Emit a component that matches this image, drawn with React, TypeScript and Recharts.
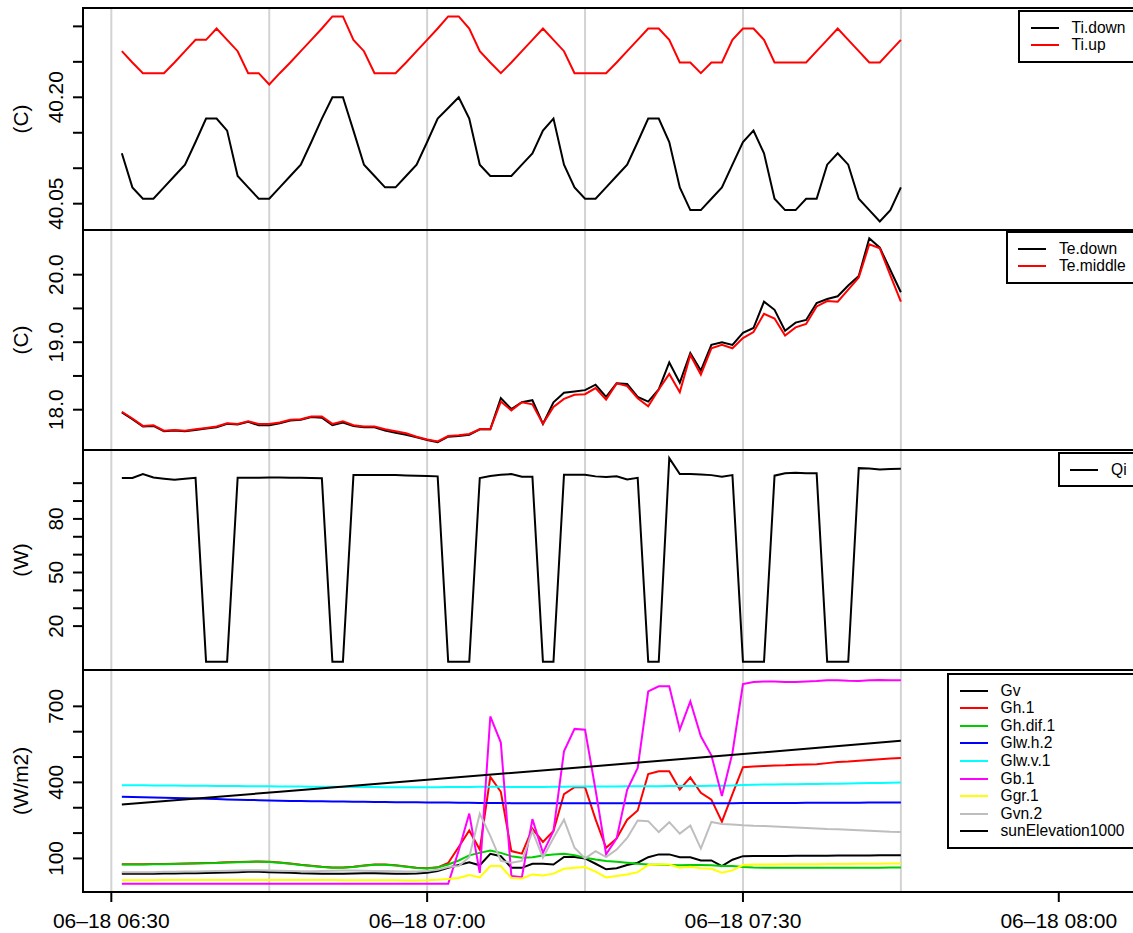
import { LineChart, Line, XAxis, YAxis, CartesianGrid } from 'recharts'

const FONT = '"Liberation Sans", Arial, Helvetica, sans-serif'

// minutes after 06:30
const MINUTES = [
  1, 2, 3, 4, 5, 6, 7, 8, 9, 10, 11, 12, 13, 14, 15, 16, 17, 18, 19, 20,
  21, 22, 23, 24, 25, 26, 27, 28, 29, 30, 31, 32, 33, 34, 35, 36, 37, 38, 39, 40,
  41, 42, 43, 44, 45, 46, 47, 48, 49, 50, 51, 52, 53, 54, 55, 56, 57, 58, 59, 60,
  61, 62, 63, 64, 65, 66, 67, 68, 69, 70, 71, 72, 73, 74, 75,
]
const X_TICKS = [0, 30, 60, 90]
const X_LABELS = ['06–18 06:30', '06–18 07:00', '06–18 07:30', '06–18 08:00']
const GRID_T = [0, 15, 30, 45, 60, 75]

const TI_DOWN = [
  40.121, 40.073, 40.057, 40.057, 40.073, 40.089, 40.105, 40.137, 40.170, 40.170,
  40.153, 40.089, 40.073, 40.057, 40.057, 40.073, 40.089, 40.105, 40.137, 40.170,
  40.200, 40.200, 40.153, 40.105, 40.089, 40.073, 40.073, 40.089, 40.105, 40.137,
  40.170, 40.185, 40.200, 40.170, 40.105, 40.089, 40.089, 40.089, 40.105, 40.121,
  40.153, 40.170, 40.105, 40.073, 40.057, 40.057, 40.073, 40.089, 40.105, 40.137,
  40.170, 40.170, 40.137, 40.073, 40.041, 40.041, 40.057, 40.073, 40.105, 40.137,
  40.153, 40.121, 40.057, 40.041, 40.041, 40.057, 40.057, 40.105, 40.121, 40.105,
  40.057, 40.041, 40.025, 40.041, 40.073,
]
const TI_UP = [
  40.265, 40.249, 40.234, 40.234, 40.234, 40.249, 40.265, 40.281, 40.281, 40.297,
  40.281, 40.265, 40.234, 40.234, 40.218, 40.234, 40.249, 40.265, 40.281, 40.297,
  40.314, 40.314, 40.281, 40.265, 40.234, 40.234, 40.234, 40.249, 40.265, 40.281,
  40.297, 40.314, 40.314, 40.297, 40.265, 40.249, 40.234, 40.249, 40.265, 40.281,
  40.297, 40.281, 40.265, 40.234, 40.234, 40.234, 40.234, 40.249, 40.265, 40.281,
  40.297, 40.297, 40.281, 40.249, 40.249, 40.234, 40.249, 40.249, 40.281, 40.297,
  40.297, 40.281, 40.249, 40.249, 40.249, 40.249, 40.265, 40.281, 40.297, 40.281,
  40.265, 40.249, 40.249, 40.265, 40.281,
]

const TE_DOWN = [
  17.96, 17.86, 17.75, 17.76, 17.68, 17.69, 17.68, 17.70, 17.72, 17.74,
  17.79, 17.78, 17.82, 17.77, 17.77, 17.80, 17.84, 17.85, 17.89, 17.88,
  17.77, 17.81, 17.76, 17.74, 17.74, 17.69, 17.66, 17.63, 17.59, 17.55,
  17.52, 17.60, 17.61, 17.63, 17.71, 17.71, 18.17, 18.01, 18.11, 18.14,
  17.79, 18.11, 18.25, 18.27, 18.29, 18.37, 18.19, 18.39, 18.38, 18.19,
  18.12, 18.30, 18.70, 18.40, 18.84, 18.58, 18.96, 19.00, 18.96, 19.14,
  19.21, 19.60, 19.48, 19.17, 19.29, 19.33, 19.58, 19.64, 19.68, 19.84,
  19.98, 20.54, 20.40, 20.07, 19.74,
]
const TE_MIDDLE = [
  17.97, 17.87, 17.76, 17.77, 17.69, 17.70, 17.69, 17.71, 17.73, 17.75,
  17.80, 17.79, 17.83, 17.79, 17.79, 17.81, 17.85, 17.86, 17.90, 17.90,
  17.79, 17.83, 17.77, 17.75, 17.75, 17.71, 17.68, 17.65, 17.60, 17.56,
  17.53, 17.61, 17.62, 17.64, 17.71, 17.71, 18.12, 17.99, 18.11, 18.08,
  17.79, 18.04, 18.16, 18.22, 18.23, 18.32, 18.15, 18.39, 18.35, 18.17,
  18.05, 18.30, 18.53, 18.26, 18.81, 18.52, 18.91, 18.96, 18.91, 19.06,
  19.15, 19.42, 19.35, 19.10, 19.22, 19.27, 19.53, 19.61, 19.60, 19.78,
  19.96, 20.45, 20.39, 19.99, 19.60,
]

const QI = [
  102.9, 102.9, 105.1, 103.2, 102.5, 101.9, 102.5, 103.0, 0, 0,
  0, 103.0, 103.0, 103.0, 103.2, 103.2, 103.0, 103.0, 102.9, 102.7,
  0, 0, 104.5, 104.5, 104.5, 104.5, 104.5, 104.3, 104.2, 104.0,
  103.8, 0, 0, 0, 102.9, 104.0, 104.7, 105.1, 103.6, 103.6,
  0, 0, 104.7, 104.7, 104.7, 103.8, 103.4, 103.8, 102.1, 103.0,
  0, 0, 114.0, 105.1, 105.1, 104.9, 104.5, 103.6, 104.5, 0,
  0, 0, 104.2, 105.5, 105.8, 105.6, 105.5, 0, 0, 0,
  108.4, 108.2, 107.7, 107.9, 108.1,
]

const GV = [
  40, 40, 40, 40, 41, 41, 42, 42, 43, 44,
  45, 46, 47, 47, 46, 45, 44, 42, 41, 40,
  40, 40, 41, 42, 42, 41, 40, 40, 41, 44,
  50, 63, 74, 85, 73, 118, 109, 63, 63, 79,
  79, 76, 106, 106, 100, 79, 57, 61, 74, 83,
  105, 116, 116, 105, 105, 92, 92, 70, 95, 109,
  110, 110, 110, 110, 111, 111, 111, 111, 112, 112,
  112, 112, 113, 113, 113,
]
const GH_1 = [
  77, 77, 77, 78, 78, 79, 80, 81, 82, 83,
  85, 86, 87, 88, 87, 84, 80, 75, 71, 67,
  64, 64, 67, 72, 76, 76, 73, 68, 63, 61,
  65, 82, 145, 210, 135, 422, 363, 129, 119, 217,
  165, 208, 354, 381, 381, 254, 142, 179, 253, 289,
  433, 444, 444, 372, 420, 359, 332, 245, 354, 460,
  463, 465, 467, 468, 470, 471, 472, 476, 480, 482,
  485, 488, 491, 494, 496,
]
const GH_DIF_1 = [
  76, 76, 76, 77, 77, 78, 79, 80, 81, 82,
  84, 85, 86, 87, 86, 83, 79, 74, 70, 66,
  63, 63, 66, 71, 75, 75, 72, 67, 62, 60,
  64, 76, 92, 112, 122, 131, 122, 109, 103, 105,
  112, 116, 118, 113, 103, 96, 90, 87, 83, 79,
  76, 75, 74, 73, 74, 74, 73, 70, 70, 66,
  64, 63, 63, 63, 63, 63, 63, 63, 63, 63,
  63, 63, 63, 64, 64,
]
const GLW_H_2 = [
  343, 342, 341, 340, 339, 338, 337, 336, 335, 334,
  333, 332, 331, 330, 329, 328, 327, 327, 326, 326,
  325, 325, 324, 324, 323, 323, 322, 322, 322, 321,
  321, 321, 320, 320, 319, 319, 319, 318, 318, 318,
  318, 318, 318, 318, 318, 318, 318, 318, 318, 318,
  318, 318, 318, 318, 318, 318, 318, 318, 318, 319,
  319, 319, 319, 319, 319, 320, 320, 320, 320, 320,
  320, 321, 321, 321, 321,
]
const GLW_V_1 = [
  389, 389, 389, 388, 388, 388, 387, 387, 387, 386,
  386, 386, 385, 385, 385, 384, 384, 384, 383, 383,
  383, 382, 382, 382, 382, 381, 381, 381, 381, 381,
  381, 382, 382, 382, 383, 383, 383, 382, 382, 382,
  382, 383, 383, 384, 384, 384, 384, 384, 385, 385,
  385, 385, 386, 386, 386, 386, 387, 387, 388, 390,
  391, 392, 392, 393, 393, 394, 394, 395, 395, 396,
  397, 398, 398, 399, 400,
]
const GB_1 = [
  0, 0, 0, 0, 0, 0, 0, 0, 0, 0,
  0, 0, 0, 0, 0, 0, 0, 0, 0, 0,
  0, 0, 0, 0, 0, 0, 0, 0, 0, 0,
  0, 0, 131, 277, 43, 660, 557, 31, 26, 255,
  122, 208, 523, 611, 608, 370, 116, 179, 371, 457,
  759, 779, 779, 608, 720, 582, 507, 346, 516, 788,
  796, 798, 798, 796, 796, 798, 800, 803, 803, 801,
  800, 803, 804, 803, 803,
]
const GGR_1 = [
  14, 14, 14, 14, 15, 15, 15, 15, 15, 15,
  15, 15, 15, 15, 15, 15, 15, 15, 15, 15,
  15, 14, 14, 14, 14, 14, 14, 13, 13, 14,
  16, 19, 23, 35, 25, 70, 70, 23, 21, 37,
  33, 40, 59, 63, 66, 48, 25, 31, 37, 46,
  74, 76, 76, 63, 67, 61, 59, 44, 53, 74,
  76, 76, 76, 77, 77, 77, 77, 78, 78, 78,
  79, 79, 79, 80, 80,
]
const GVN_2 = [
  46, 46, 46, 46, 47, 47, 48, 48, 49, 50,
  51, 52, 53, 53, 52, 51, 50, 49, 49, 50,
  51, 52, 52, 51, 50, 50, 49, 48, 48, 50,
  55, 66, 70, 105, 276, 189, 90, 83, 90, 208,
  103, 181, 253, 142, 100, 129, 105, 135, 181, 250,
  247, 204, 243, 198, 230, 139, 244, 236, 234, 231,
  229, 228, 226, 224, 222, 220, 218, 216, 215, 213,
  211, 209, 207, 205, 204,
]
const SUN_T = [1, 16, 30, 45, 60, 75]
const SUN_ELEV = [313, 363, 410, 461, 512, 564]

const rows = MINUTES.map((t, i) => ({
  t,
  tiDown: TI_DOWN[i], tiUp: TI_UP[i],
  teDown: TE_DOWN[i], teMiddle: TE_MIDDLE[i],
  qi: QI[i],
  gv: GV[i], gh1: GH_1[i], ghDif1: GH_DIF_1[i], glwH2: GLW_H_2[i], glwV1: GLW_V_1[i],
  gb1: GB_1[i], ggr1: GGR_1[i], gvn2: GVN_2[i],
}))
const sunRows = SUN_T.map((t, i) => ({ t, sun: SUN_ELEV[i] }))

type Series = { key: string; name: string; color: string; data?: any[] }

const P1: Series[] = [
  { key: 'tiDown', name: 'Ti.down', color: '#000000' },
  { key: 'tiUp', name: 'Ti.up', color: '#FF0000' },
]
const P2: Series[] = [
  { key: 'teDown', name: 'Te.down', color: '#000000' },
  { key: 'teMiddle', name: 'Te.middle', color: '#FF0000' },
]
const P3: Series[] = [{ key: 'qi', name: 'Qi', color: '#000000' }]
const P4: Series[] = [
  { key: 'gv', name: 'Gv', color: '#000000' },
  { key: 'gh1', name: 'Gh.1', color: '#FF0000' },
  { key: 'ghDif1', name: 'Gh.dif.1', color: '#00CD00' },
  { key: 'glwH2', name: 'Glw.h.2', color: '#0000FF' },
  { key: 'glwV1', name: 'Glw.v.1', color: '#00FFFF' },
  { key: 'gb1', name: 'Gb.1', color: '#FF00FF' },
  { key: 'ggr1', name: 'Ggr.1', color: '#FFFF00' },
  { key: 'gvn2', name: 'Gvn.2', color: '#BEBEBE' },
  { key: 'sun', name: 'sunElevation1000', color: '#000000', data: sunRows },
]

const X_DOMAIN: [number, number] = [-2.69, 98.76]
const CHART_W = 1160
const PLOT_LEFT = 83
const PLOT_RIGHT = 1151

function yTick(shown: number[], digits: number) {
  return function Tick(props: any) {
    const { y, payload } = props
    const v = payload.value as number
    if (!shown.some((s) => Math.abs(s - v) < 1e-6)) return <g />
    return (
      <text x={63.5} y={y} transform={`rotate(-90 63.5 ${y})`} textAnchor="middle"
        fontSize={20.8} fontFamily={FONT} fill="#000">
        {v.toFixed(digits)}
      </text>
    )
  }
}

function yTitle(text: string) {
  return (props: any) => {
    const vb = props.viewBox || {}
    const cy = vb.y + vb.height / 2
    return (
      <text x={27.6} y={cy} transform={`rotate(-90 27.6 ${cy})`} textAnchor="middle"
        fontSize={20.8} fontFamily={FONT} fill="#000">
        {text}
      </text>
    )
  }
}

function XTick(props: any) {
  const { x, y, payload } = props
  const i = X_TICKS.indexOf(payload.value)
  return (
    <text x={x} y={y + 24} textAnchor="middle" fontSize={21} fontFamily={FONT} fill="#000">
      {X_LABELS[i]}
    </text>
  )
}

type PanelProps = {
  top: number
  bottom: number
  series: Series[]
  domain: [number, number]
  ticks: number[]
  shown: number[]
  digits: number
  title: string
  showX?: boolean
}

function Panel({ top, bottom, series, domain, ticks, shown, digits, title, showX }: PanelProps) {
  const h = bottom - top + (showX ? 41 : 0)
  return (
    <div style={{ position: 'absolute', left: 0, top }}>
      <LineChart width={CHART_W} height={h} data={rows}
        margin={{ top: 0, right: CHART_W - PLOT_RIGHT, bottom: 0, left: 0 }}>
        <CartesianGrid horizontal={false} verticalValues={GRID_T} stroke="#D3D3D3" strokeWidth={2} />
        <XAxis dataKey="t" type="number" domain={X_DOMAIN} allowDataOverflow hide={!showX}
          ticks={X_TICKS} interval={0} height={41} tickSize={10} axisLine={false}
          tickLine={{ stroke: '#000', strokeWidth: 2 }} tick={XTick} />
        <YAxis type="number" domain={domain} allowDataOverflow ticks={ticks} interval={0}
          width={PLOT_LEFT} tickSize={10} axisLine={false}
          tickLine={{ stroke: '#000', strokeWidth: 2 }} tick={yTick(shown, digits)}
          label={yTitle(title)} />
        {series.map((s) => (
          <Line key={s.key} data={s.data} dataKey={s.key} type="linear" stroke={s.color}
            strokeWidth={2} dot={false} activeDot={false} isAnimationActive={false} />
        ))}
      </LineChart>
    </div>
  )
}

function LegendBox({ left, top, items }: { left: number; top: number; items: Series[] }) {
  const row = 17.6
  return (
    <div style={{
      position: 'absolute', left, top, width: 400, height: (items.length + 1) * row,
      border: '2px solid #000', boxSizing: 'border-box', background: '#fff',
    }}>
      {items.map((it, j) => (
        <div key={it.name}>
          <div style={{
            position: 'absolute', left: 10.5, top: row * (j + 1) - 3, width: 28, height: 2,
            background: it.color,
          }} />
          <div style={{
            position: 'absolute', left: 51.5, top: row * (j + 1) - 12, height: 20, lineHeight: '20px',
            fontSize: 15.6, fontFamily: FONT, whiteSpace: 'nowrap', color: '#000',
          }}>
            {it.name}
          </div>
        </div>
      ))}
    </div>
  )
}

const TOPS = [8, 230, 450, 670]
const BOTTOMS = [230, 450, 670, 892]

export default function App() {
  return (
    <div style={{
      position: 'fixed', left: 0, top: 0, width: 1133, height: 933, overflow: 'hidden',
      background: '#fff', fontFamily: FONT,
    }}>
      <Panel top={TOPS[0]} bottom={BOTTOMS[0]} series={P1} domain={[40.0129, 40.3259]}
        ticks={[40.05, 40.1, 40.15, 40.2, 40.25, 40.3]} shown={[40.05, 40.2]} digits={2} title="(C)" />
      <Panel top={TOPS[1]} bottom={BOTTOMS[1]} series={P2} domain={[17.403, 20.662]}
        ticks={[18, 18.5, 19, 19.5, 20]} shown={[18, 19, 20]} digits={1} title="(C)" />
      <Panel top={TOPS[2]} bottom={BOTTOMS[2]} series={P3} domain={[-4.56, 118.56]}
        ticks={[20, 30, 40, 50, 60, 70, 80, 90, 100]} shown={[20, 50, 80]} digits={0} title="(W)" />
      <Panel top={TOPS[3]} bottom={BOTTOMS[3]} series={P4} domain={[-32.4, 843.4]}
        ticks={[100, 200, 300, 400, 500, 600, 700]} shown={[100, 400, 700]} digits={0} title="(W/m2)" showX />
      {TOPS.map((t, k) => (
        <div key={t} style={{
          position: 'absolute', left: PLOT_LEFT - 1, top: t - 1, width: PLOT_RIGHT - PLOT_LEFT + 2,
          height: BOTTOMS[k] - t + 2, border: '2px solid #000', boxSizing: 'border-box',
          pointerEvents: 'none',
        }} />
      ))}
      <LegendBox left={1018} top={10} items={P1} />
      <LegendBox left={1005.5} top={231} items={P2} />
      <LegendBox left={1057.5} top={452} items={P3} />
      <LegendBox left={947} top={673} items={P4} />
    </div>
  )
}
